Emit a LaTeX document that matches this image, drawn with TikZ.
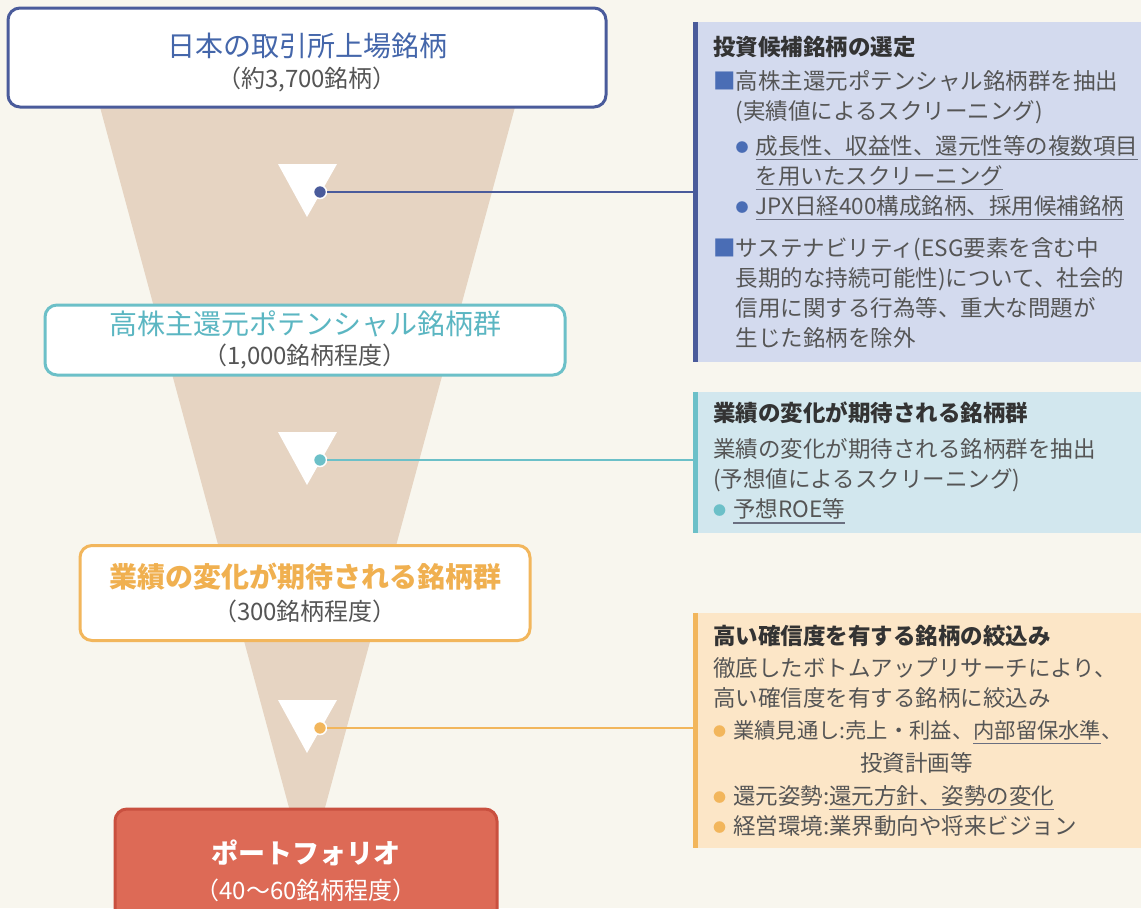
\documentclass[tikz,border=0pt]{standalone}
\usepackage{fontspec}
\setmainfont{Noto Sans CJK JP}
\definecolor{bgcream}{HTML}{F8F6EE}
\definecolor{funnelbeige}{HTML}{E6D4C2}
\definecolor{navyline}{HTML}{4A5B9B}
\definecolor{navytext}{HTML}{4466AA}
\definecolor{navysq}{HTML}{4A6DB5}
\definecolor{tealline}{HTML}{6CC0C8}
\definecolor{tealtext}{HTML}{5BB6C2}
\definecolor{amberline}{HTML}{F2B65C}
\definecolor{ambertext}{HTML}{F0B050}
\definecolor{redfill}{HTML}{DD6A56}
\definecolor{redline}{HTML}{C9503F}
\definecolor{navypanel}{HTML}{D3DAEE}
\definecolor{tealpanel}{HTML}{D2E7EE}
\definecolor{amberpanel}{HTML}{FCE6C7}
\definecolor{bodygray}{HTML}{555555}
\definecolor{headgray}{HTML}{333333}
\definecolor{ulgray}{HTML}{6A6F80}
\newcommand\ulin[1]{\setbox0\hbox{#1}\rlap{\textcolor{ulgray}{\rule[-6pt]{\wd0}{1.2pt}}}\box0}
\newcommand\sqmark{\textcolor{navysq}{■}}
\newcommand\dotmk[1]{\makebox[20pt][l]{\raisebox{2pt}{\textcolor{#1}{\fontsize{13}{13}\selectfont ●}}}}
\newcommand\headtx[1]{\textbf{\textcolor{headgray}{#1}}}
\tikzset{
	stagebox/.style={rounded corners=12pt, line width=3pt, fill=white, align=center, inner sep=0pt, text=bodygray, font=\fontsize{24}{32}\selectfont},
	panelbox/.style={anchor=north west, inner sep=0pt, minimum width=448pt},
	paneltext/.style={anchor=west, align=left, inner sep=0pt, text=bodygray, font=\fontsize{22.5}{30}\selectfont},
	dotmark/.style={circle, draw=white, line width=1.5pt, minimum size=13pt, inner sep=0pt},
	linkline/.style={line width=2.5pt},
	sidebar/.style={line width=5pt}
}
\begin{document}
\begin{tikzpicture}[x=1pt,y=-1pt]
		\useasboundingbox (0,0) rectangle (1141,908);
		\fill[bgcream] (0,0) rectangle (1141,908);
		\clip (0,0) rectangle (1141,908);
		\fill[funnelbeige] (100,107) -- (515,107) -- (323,815) -- (291,815) -- cycle;
		\foreach \ty in {192,460,728}
			\fill[white] (278,{\ty-28}) -- (337,{\ty-28}) -- (307,{\ty+25}) -- cycle;
		\node[stagebox, draw=navyline, minimum width=598pt, minimum height=99pt] (listed) at (307,57.5) {\rule{0pt}{33pt}{\fontsize{28}{32}\selectfont\textcolor{navytext}{日本の取引所上場銘柄}}\\[-1pt]（約3,700銘柄）};
		\node[stagebox, draw=tealline, minimum width=520pt, minimum height=70pt] (payout) at (305,340) {{\fontsize{28}{32}\selectfont\textcolor{tealtext}{高株主還元ポテンシャル銘柄群}}\\[-2pt]（1,000銘柄程度）};
		\node[stagebox, draw=amberline, minimum width=450pt, minimum height=95pt] (change) at (305,593) {{\fontsize{28}{32}\selectfont\textbf{\textcolor{ambertext}{業績の変化が期待される銘柄群}}}\\[1pt]（300銘柄程度）};
		\node[stagebox, draw=redline, fill=redfill, text=white, minimum width=382pt, minimum height=124pt] (folio) at (306,871) {{\fontsize{27}{32}\selectfont\textbf{ポートフォリオ}}\\[4pt]（40〜60銘柄程度）};
		\node[panelbox, fill=navypanel, minimum height=340pt] (selpanel) at (693,22) {};
		\node[panelbox, fill=tealpanel, minimum height=141pt] (fcpanel) at (693,392) {};
		\node[panelbox, fill=amberpanel, minimum height=235pt] (convpanel) at (693,613) {};
		\draw[sidebar, navyline] ([xshift=2.5pt]selpanel.north west) -- ([xshift=2.5pt]selpanel.south west);
		\draw[sidebar, tealline] ([xshift=2.5pt]fcpanel.north west) -- ([xshift=2.5pt]fcpanel.south west);
		\draw[sidebar, amberline] ([xshift=2.5pt]convpanel.north west) -- ([xshift=2.5pt]convpanel.south west);
		\node[paneltext] (seltext) at ([xshift=20pt]selpanel.west) {\headtx{投資候補銘柄の選定}\\[4pt]
			\sqmark 高株主還元ポテンシャル銘柄群を抽出\\
			\hspace*{1em}(実績値によるスクリーニング)\\[5pt]
			\hspace*{1em}\dotmk{navysq}\ulin{成長性、収益性、還元性等の複数項目}\\
			\hspace*{1em}\hspace*{20pt}\ulin{を用いたスクリーニング}\\
			\hspace*{1em}\dotmk{navysq}\ulin{JPX日経400構成銘柄、採用候補銘柄}\\[12pt]
			\sqmark サステナビリティ(ESG要素を含む中\\
			\hspace*{1em}長期的な持続可能性)について、社会的\\
			\hspace*{1em}信用に関する行為等、重大な問題が\\
			\hspace*{1em}生じた銘柄を除外};
		\node[paneltext] (fctext) at ([xshift=20pt]fcpanel.west) {\headtx{業績の変化が期待される銘柄群}\\[6pt]
			業績の変化が期待される銘柄群を抽出\\
			(予想値によるスクリーニング)\\
			\dotmk{tealline}\ulin{予想ROE等}};
		\node[paneltext] (convtext) at ([xshift=20pt]convpanel.west) {\headtx{高い確信度を有する銘柄の絞込み}\\[2pt]
			徹底したボトムアップリサーチにより、\\
			高い確信度を有する銘柄に絞込み\\[2pt]
			\dotmk{amberline}{\fontsize{21.3}{30}\selectfont 業績見通し:売上・利益、\ulin{内部留保水準}、}\\[3pt]
			\hspace*{147pt}投資計画等\\[3pt]
			\dotmk{amberline}還元姿勢:\ulin{還元方針、姿勢の変化}\\
			\dotmk{amberline}経営環境:業界動向や将来ビジョン};
		\node[dotmark, fill=navyline] (pick) at (320,192) {};
		\node[dotmark, fill=tealline] (fcdot) at (320,460) {};
		\node[dotmark, fill=amberline] (convdot) at (320,728) {};
		\draw[linkline, navyline] (pick) -- (pick -| selpanel.west);
		\draw[linkline, tealline] (fcdot) -- (fcdot -| fcpanel.west);
		\draw[linkline, amberline] (convdot) -- (convdot -| convpanel.west);
\end{tikzpicture}
\end{document}
